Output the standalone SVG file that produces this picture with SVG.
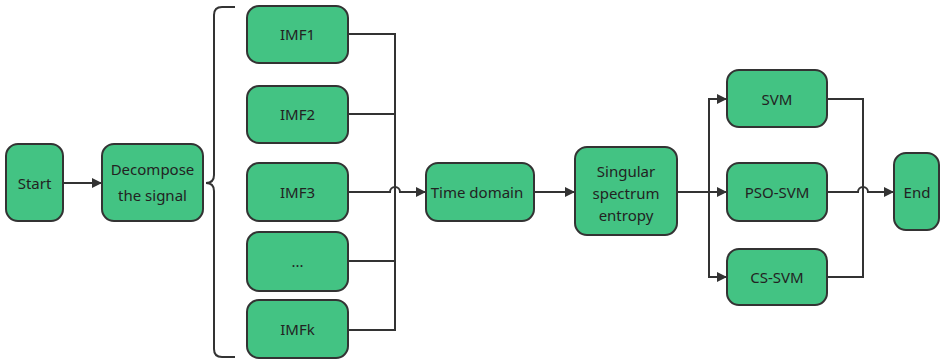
<svg xmlns="http://www.w3.org/2000/svg" width="941" height="364" viewBox="0 0 941 364">
<defs>
<style>
.n{fill:#43c383;stroke:#333;stroke-width:2}
.t{font-family:"Noto Sans","Open Sans",sans-serif;font-size:15px;fill:#222;text-anchor:middle;dominant-baseline:central}
.c{fill:none;stroke:#333;stroke-width:2}
</style>
<marker id="a" markerWidth="10" markerHeight="10" refX="9" refY="5" orient="auto" markerUnits="userSpaceOnUse">
<path d="M0,0 L10,5 L0,10 Z" fill="#333"/>
</marker>
</defs>
<rect width="941" height="364" fill="#fff"/>
<g id="connectors">
<path class="c" d="M63,183 H101" marker-end="url(#a)"/>
<path class="c" stroke-width="3" d="M235,7 H222 Q214,7 214,15 V175 Q214,183 206,183 Q214,183 214,191 V349 Q214,357 222,357 H235"/>
<path class="c" d="M348,34 H395 V330 H348"/>
<path class="c" d="M348,114 H395"/>
<path class="c" d="M348,261 H395"/>
<path class="c" d="M348,192 H390 A5,5 0 0 1 400,192 H425" marker-end="url(#a)"/>
<path class="c" d="M400,192 H420" stroke-width="3"/>
<path class="c" d="M534,192 H574" marker-end="url(#a)"/>
<path class="c" d="M677,192 H726" marker-end="url(#a)"/>
<path class="c" d="M726,99 H709 V277 H726" />
<path class="c" d="M709,99 H726" marker-end="url(#a)"/>
<path class="c" d="M709,277 H726" marker-end="url(#a)"/>
<path class="c" d="M827,99 H863 V277 H827"/>
<path class="c" d="M827,192 H858 A5,5 0 0 1 868,192 H893" marker-end="url(#a)"/>
<path class="c" d="M868,192 H888" stroke-width="3"/>
</g>
<g id="start"><rect class="n" x="6" y="144" width="57" height="77" rx="12"/><text class="t" x="34.5" y="183">Start</text></g>
<g id="decompose"><rect class="n" x="102" y="144" width="101" height="77" rx="12"/><text class="t" x="152.5" y="169">Decompose</text><text class="t" x="152.5" y="195">the signal</text></g>
<g id="imf1"><rect class="n" x="247" y="6" width="101" height="57" rx="12"/><text class="t" x="297.5" y="34">IMF1</text></g>
<g id="imf2"><rect class="n" x="247" y="86" width="101" height="57" rx="12"/><text class="t" x="297.5" y="114">IMF2</text></g>
<g id="imf3"><rect class="n" x="247" y="163" width="101" height="58" rx="12"/><text class="t" x="297.5" y="192">IMF3</text></g>
<g id="imfdots"><rect class="n" x="247" y="232" width="101" height="59" rx="12"/><text class="t" x="297.5" y="261">...</text></g>
<g id="imfk"><rect class="n" x="247" y="300" width="101" height="58" rx="12"/><text class="t" x="297.5" y="329">IMFk</text></g>
<g id="timedomain"><rect class="n" x="426" y="163" width="108" height="58" rx="12"/><text class="t" x="477" y="192">Time domain</text></g>
<g id="entropy"><rect class="n" x="575" y="147" width="102" height="88" rx="12"/><text class="t" x="626" y="171">Singular</text><text class="t" x="626" y="193">spectrum</text><text class="t" x="626" y="215">entropy</text></g>
<g id="svm"><rect class="n" x="727" y="70" width="100" height="57" rx="12"/><text class="t" x="777" y="99">SVM</text></g>
<g id="psosvm"><rect class="n" x="727" y="163" width="100" height="58" rx="12"/><text class="t" x="777" y="192">PSO-SVM</text></g>
<g id="cssvm"><rect class="n" x="727" y="249" width="100" height="56" rx="12"/><text class="t" x="777" y="277">CS-SVM</text></g>
<g id="end"><rect class="n" x="894" y="153" width="45" height="77" rx="12"/><text class="t" x="917" y="192">End</text></g>
</svg>
